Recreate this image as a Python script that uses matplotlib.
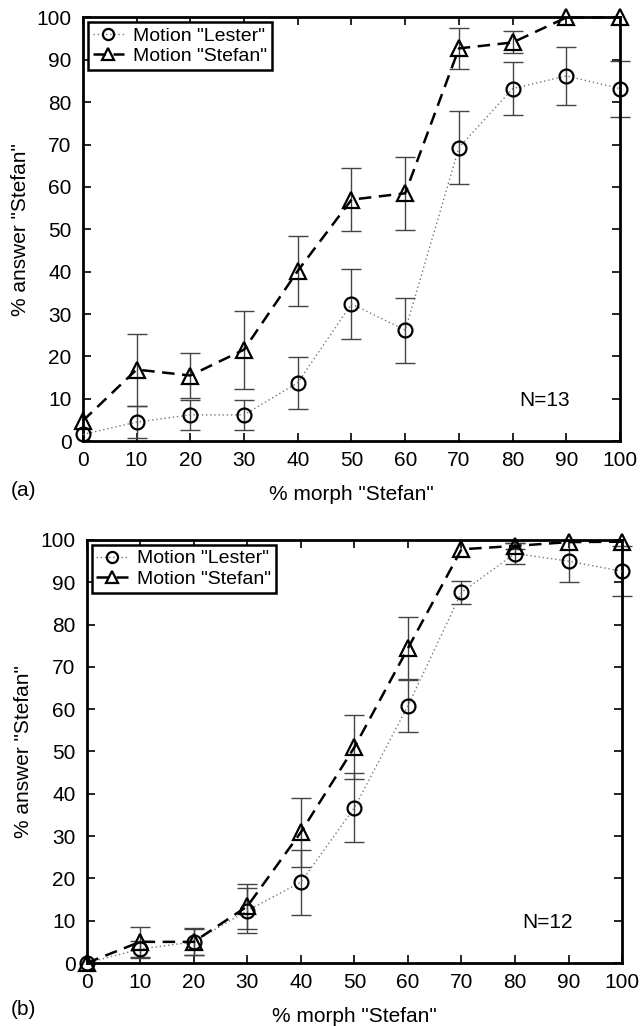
import matplotlib
matplotlib.use('agg')
import matplotlib.pyplot as plt
import numpy as np

plt.rcParams['font.family'] = ['Liberation Sans', 'DejaVu Sans']

morph = [0, 10, 20, 30, 40, 50, 60, 70, 80, 90, 100]

# panel (a), N=13
a_lester = [1.6, 4.5, 6.2, 6.2, 13.8, 32.4, 26.2, 69.3, 83.2, 86.2, 83.2]
a_lester_err = [0, 3.8, 3.6, 3.6, 6.1, 8.3, 7.7, 8.6, 6.3, 6.9, 6.6]
a_stefan = [4.8, 16.9, 15.5, 21.6, 40.2, 57.0, 58.5, 92.7, 94.1, 100, 100]
a_stefan_err = [0, 8.5, 5.2, 9.2, 8.2, 7.4, 8.6, 4.8, 2.6, 0, 0]

# panel (b), N=12
b_lester = [0, 3.3, 5.0, 12.4, 19.1, 36.7, 60.8, 87.6, 96.8, 95.0, 92.6]
b_lester_err = [0, 2.0, 3.2, 5.3, 7.7, 8.1, 6.1, 2.7, 2.5, 4.9, 5.9]
b_stefan = [0, 5.0, 5.0, 13.4, 30.9, 51.0, 74.4, 97.8, 98.6, 99.5, 99.6]
b_stefan_err = [0, 3.6, 3.1, 5.3, 8.1, 7.6, 7.3, 0, 0.8, 0, 0]

panels = [
    ([0.129, 0.570, 0.837, 0.413], a_lester, a_lester_err, a_stefan, a_stefan_err, 'N=13', '(a)', 0.522),
    ([0.135, 0.0614, 0.834, 0.4123], b_lester, b_lester_err, b_stefan, b_stefan_err, 'N=12', '(b)', 0.016),
]

fig = plt.figure(figsize=(6.42, 10.26), dpi=100)

def draw_err(ax, x, y, e):
    xs = [xi for xi, ei in zip(x, e) if ei > 0]
    ys = [yi for yi, ei in zip(y, e) if ei > 0]
    es = [ei for ei in e if ei > 0]
    ax.errorbar(xs, ys, yerr=es, fmt='none', ecolor='#444444', elinewidth=1.0,
                capsize=7, capthick=1.0, zorder=2, clip_on=False)

for pos, lest, lest_e, stef, stef_e, ntext, tag, tag_y in panels:
    ax = fig.add_axes(pos)
    draw_err(ax, morph, lest, lest_e)
    draw_err(ax, morph, stef, stef_e)
    ax.plot(morph, lest, linestyle=(0, (1, 2)), color='#777777', linewidth=1.0,
            marker='o', markersize=10, markerfacecolor='none', markeredgecolor='black',
            markeredgewidth=1.6, label='Motion "Lester"', clip_on=False, zorder=3)
    ax.plot(morph, stef, linestyle=(0, (5, 3)), color='black', linewidth=1.8,
            marker='^', markersize=11, markerfacecolor='none', markeredgecolor='black',
            markeredgewidth=1.6, label='Motion "Stefan"', clip_on=False, zorder=3)
    ax.set_xlim(0, 100)
    ax.set_ylim(0, 100)
    ax.set_xticks(morph)
    ax.set_yticks(np.arange(0, 101, 10))
    ax.tick_params(direction='in', top=True, right=True, length=6, width=1.2,
                   labelsize=15)
    ax.tick_params(axis='x', pad=7)
    ax.tick_params(axis='y', pad=8)
    for s in ax.spines.values():
        s.set_linewidth(2.0)
    ax.set_xlabel('% morph "Stefan"', fontsize=15, labelpad=11)
    ax.set_ylabel('% answer "Stefan"', fontsize=15, labelpad=5)
    ax.text(86, 9.5, ntext, fontsize=15, ha='center', va='center')
    leg = ax.legend(loc='upper left', fontsize=14, handlelength=1.6, handletextpad=0.5,
                    borderaxespad=0.25, borderpad=0.25, labelspacing=0.15,
                    fancybox=False, framealpha=1, edgecolor='black', markerscale=0.8)
    leg.get_frame().set_linewidth(1.8)
    fig.text(0.016, tag_y, tag, fontsize=15, ha='left', va='center')

plt.savefig('out.png', format='png')
plt.close()
